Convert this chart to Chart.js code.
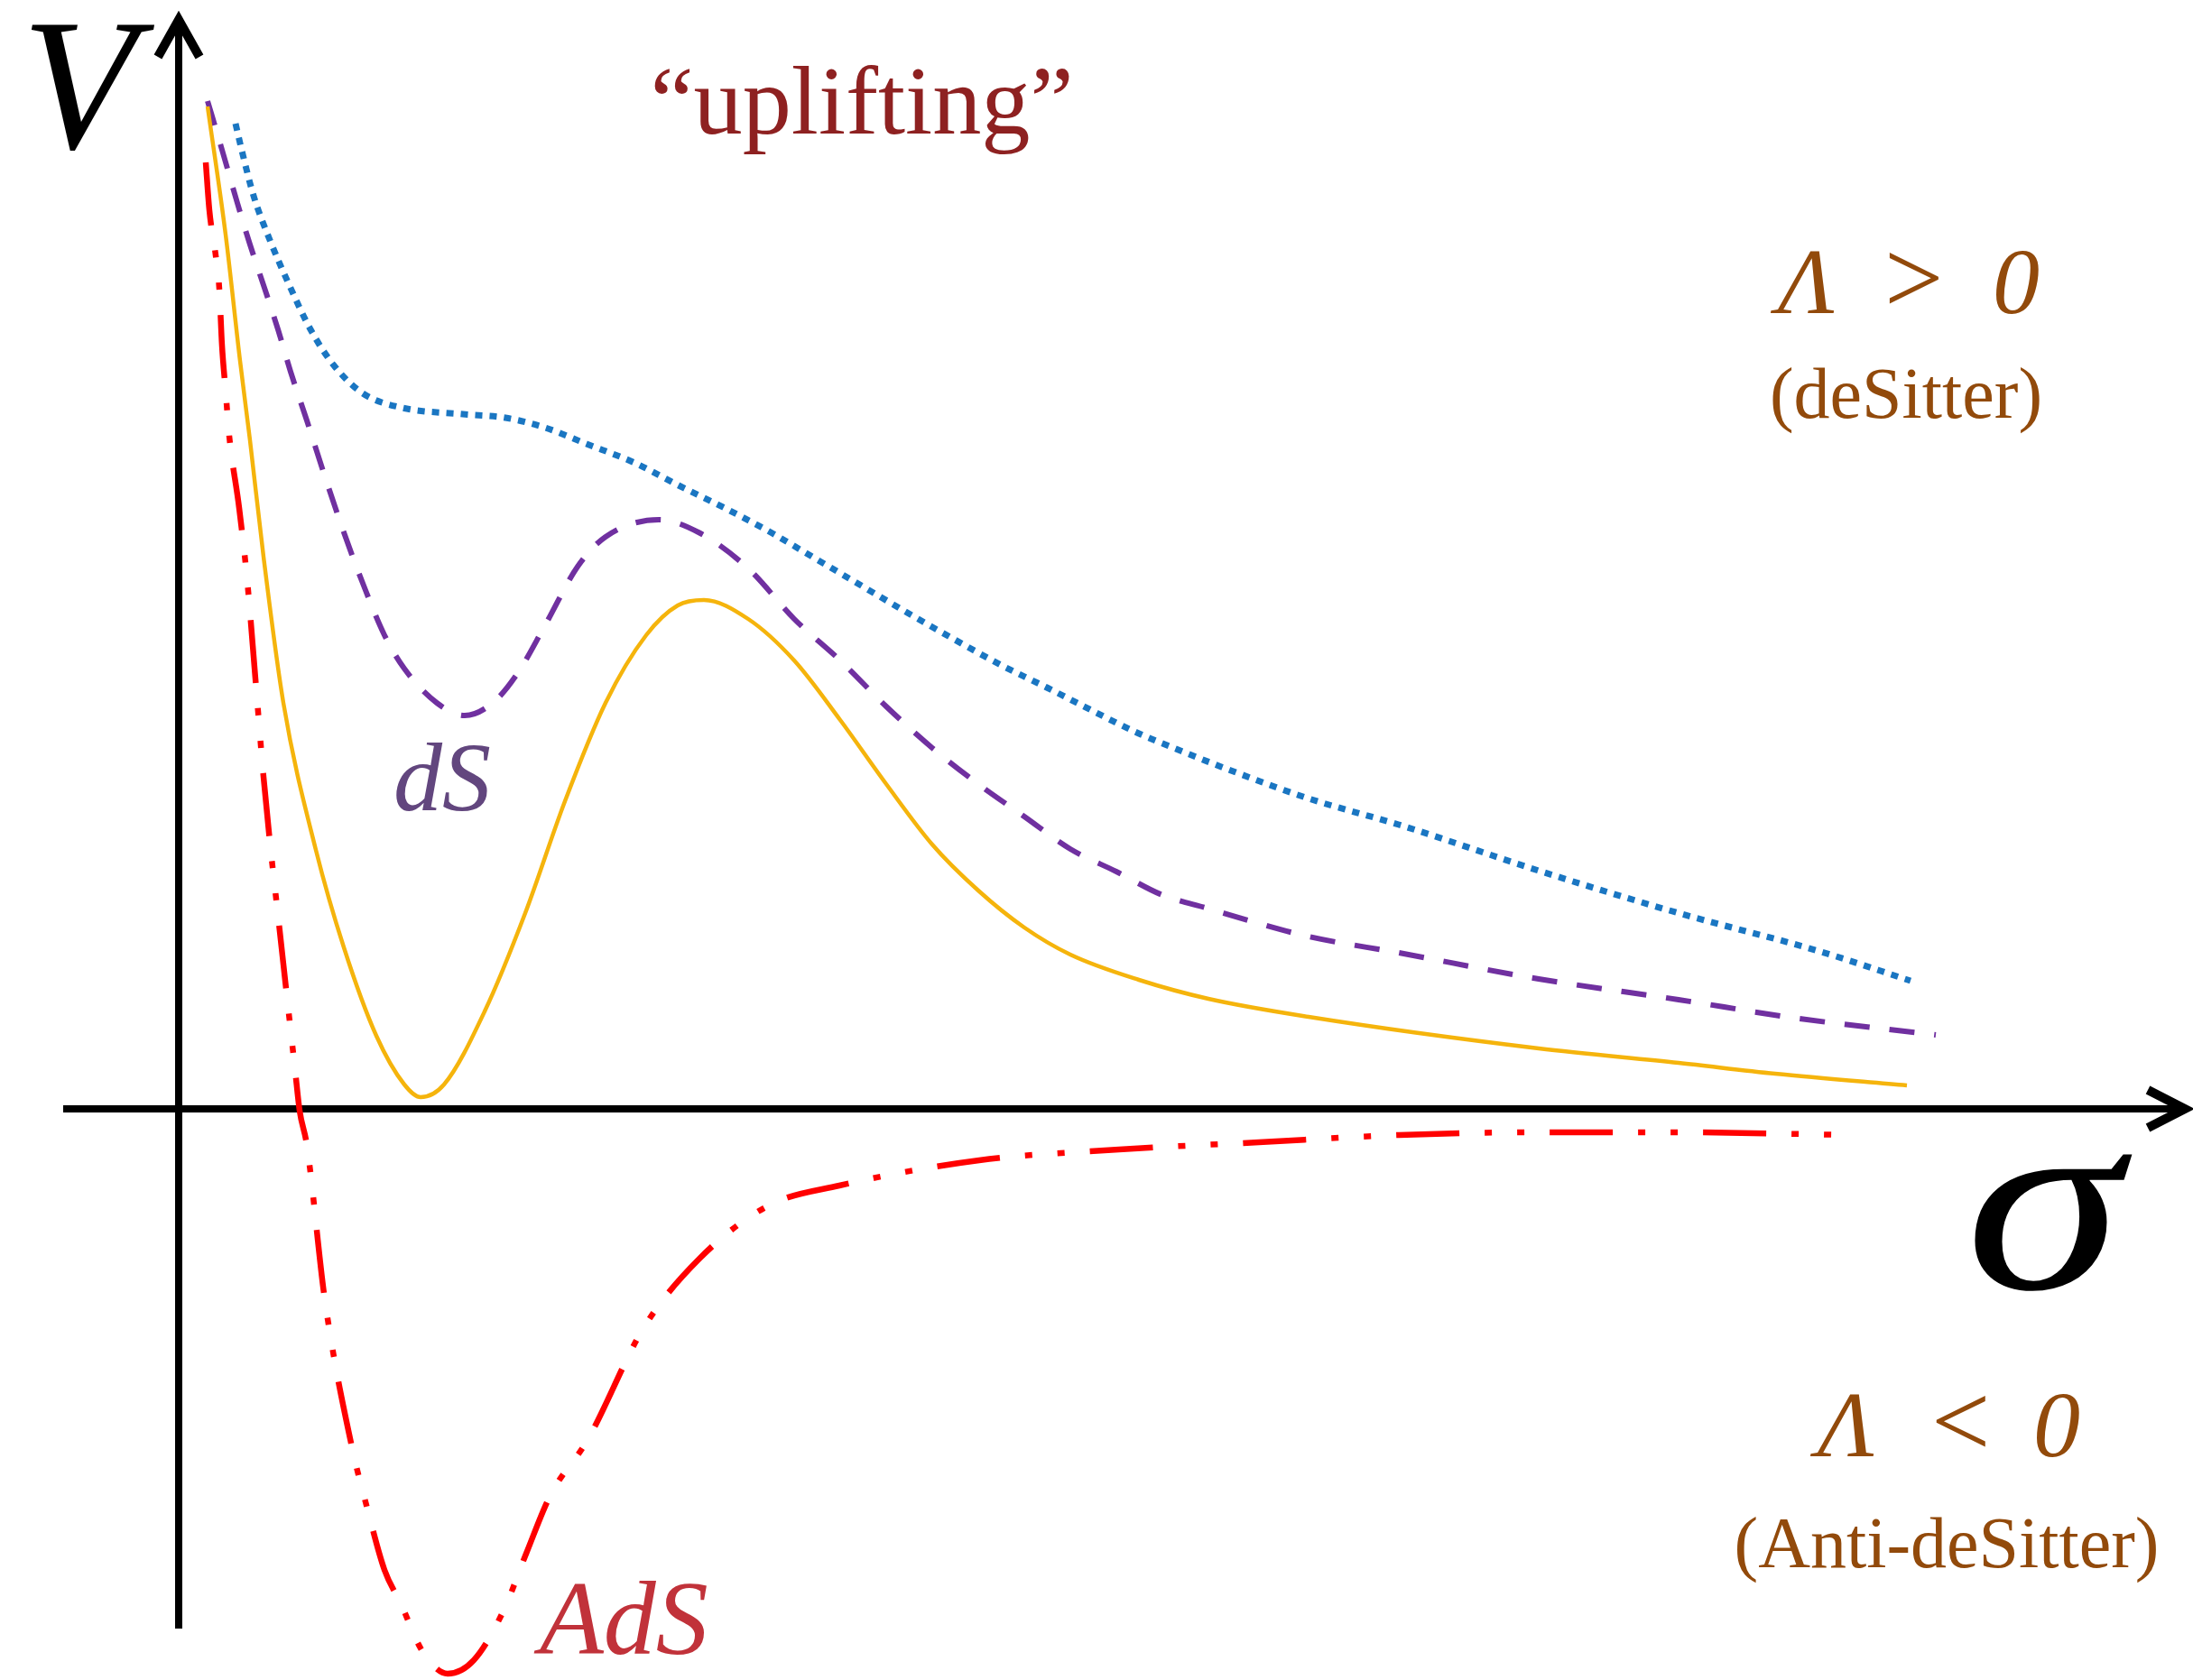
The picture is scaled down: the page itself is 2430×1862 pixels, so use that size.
<!DOCTYPE html>
<html><head><meta charset="utf-8">
<script src="https://cdn.jsdelivr.net/npm/chart.js@4.4.1/dist/chart.umd.min.js"></script>
<style>html,body{margin:0;padding:0;background:#fff;overflow:hidden}#wrap{width:2430px;height:1862px;position:relative}canvas{display:block}</style>
</head><body><div id="wrap"><canvas id="c" width="2430" height="1862"></canvas></div>
<script>
// ---- data (sigma, V) in arbitrary units ----
const sigmaYellow = [0.32,0.52,0.68,0.79,0.94,1.16,1.52,1.83,2.19,2.50,2.68,2.94,3.39,3.84,4.28,4.73,5.18,5.53,5.82,6.31,6.82,7.33,7.84,8.35,8.86,9.37,9.88,10.64,11.41,12.52,15.07,16.62,17.69,19.15];
const vYellow     = [11.11,9.69,8.29,7.41,6.12,4.50,2.87,1.79,0.81,0.27,0.13,0.27,1.08,2.17,3.41,4.50,5.25,5.58,5.64,5.43,4.97,4.31,3.60,2.93,2.42,2.01,1.71,1.43,1.22,1.02,0.67,0.51,0.39,0.26];

const sigmaPurple = [0.32,0.48,0.65,0.79,0.97,1.10,1.24,1.42,1.61,1.83,2.05,2.28,2.50,2.86,3.17,3.48,3.75,4.06,4.42,4.73,5.32,5.76,6.31,6.82,7.33,7.84,8.35,8.86,9.37,9.88,10.39,10.90,11.41,11.92,12.52,13.52,15.07,16.62,17.89,19.47];
const vPurple     = [11.17,10.63,10.04,9.58,9.04,8.64,8.17,7.63,7.04,6.39,5.80,5.25,4.88,4.50,4.36,4.50,4.82,5.36,6.01,6.34,6.53,6.39,5.99,5.43,4.97,4.46,4.00,3.60,3.24,2.88,2.63,2.37,2.22,2.07,1.91,1.73,1.44,1.21,1.01,0.82];

const sigmaBlue = [0.63,0.70,0.83,1.01,1.23,1.46,1.72,2.04,2.48,3.15,3.62,4.06,4.52,5.03,5.54,6.05,6.56,7.07,7.58,8.09,8.60,9.11,9.62,10.13,10.64,11.15,11.66,12.52,13.52,15.07,16.62,18.17,19.19];
const vBlue     = [10.92,10.62,10.12,9.63,9.12,8.64,8.24,7.93,7.77,7.70,7.66,7.55,7.37,7.17,6.91,6.66,6.39,6.09,5.79,5.49,5.20,4.92,4.67,4.41,4.16,3.95,3.75,3.44,3.15,2.64,2.17,1.75,1.42];

const sigmaRed = [0.30,0.34,0.41,0.45,0.48,0.52,0.56,0.67,0.76,0.85,0.94,1.02,1.11,1.20,1.29,1.34,1.42,1.62,1.92,2.09,2.28,2.46,2.70,2.98,3.27,3.60,3.85,4.12,4.53,5.15,5.77,6.54,7.32,8.87,10.42,11.97,13.52,15.07,16.62,18.55];
const vRed     = [10.49,9.96,9.46,9.09,8.46,7.96,7.46,6.66,5.85,4.77,3.68,2.87,2.06,1.24,0.43,-0.02,-0.40,-2.12,-3.75,-4.43,-5.11,-5.48,-6.01,-6.26,-6.11,-5.56,-4.93,-4.28,-3.67,-2.43,-1.66,-1.07,-0.85,-0.57,-0.45,-0.37,-0.29,-0.26,-0.26,-0.29];

const axisLabelV = 'V';
const axisLabelSigma = 'σ';
const titleText = '“uplifting”';
const dsLabel = 'dS';
const adsLabel = 'AdS';
const posLambda = ['Λ', '>', '0'];
const negLambda = ['Λ', '<', '0'];
const posNote = '(deSitter)';
const negNote = '(Anti-deSitter)';

const pts = (xs, ys) => xs.map((x, i) => ({x, y: ys[i]}));
const SERIF = '"Liberation Serif", "Times New Roman", serif';

const axesPlugin = {
  id: 'axesArrows',
  beforeDatasetsDraw(chart) {
    const ctx = chart.ctx, xs = chart.scales.x, ys = chart.scales.y;
    const x0 = xs.getPixelForValue(0), y0 = ys.getPixelForValue(0);
    const yTop = ys.getPixelForValue(12.1), yBot = ys.getPixelForValue(-5.76);
    const xLeft = xs.getPixelForValue(-1.28), xRight = xs.getPixelForValue(22.26);
    ctx.save();
    ctx.strokeStyle = '#000'; ctx.lineWidth = 8; ctx.lineCap = 'butt';
    ctx.beginPath(); ctx.moveTo(x0, yBot); ctx.lineTo(x0, yTop + 4); ctx.stroke();
    ctx.beginPath(); ctx.moveTo(xLeft, y0); ctx.lineTo(xRight - 4, y0); ctx.stroke();
    ctx.lineWidth = 10; ctx.lineJoin = 'miter'; ctx.miterLimit = 10;
    ctx.beginPath(); ctx.moveTo(x0 - 23, yTop + 44); ctx.lineTo(x0, yTop + 3); ctx.lineTo(x0 + 23, yTop + 44); ctx.stroke();
    ctx.beginPath(); ctx.moveTo(xRight - 44, y0 - 21); ctx.lineTo(xRight - 3, y0); ctx.lineTo(xRight - 44, y0 + 21); ctx.stroke();
    ctx.restore();
  },
  afterDraw(chart) {
    const ctx = chart.ctx;
    ctx.save();
    ctx.textBaseline = 'alphabetic';
    const txt = (s, x, y, font, color, align) => { ctx.font = font; ctx.fillStyle = color; ctx.textAlign = align || 'left'; ctx.fillText(s, x, y); };
    txt(axisLabelV, 24, 164, 'italic 208px ' + SERIF, '#000');
    // sigma, slightly widened
    ctx.save();
    ctx.translate(2178, 1428); ctx.scale(1.22, 1);
    txt(axisLabelSigma, 0, 0, 'italic 288px ' + SERIF, '#000');
    ctx.restore();
    ctx.font = '100px ' + SERIF;
    const w = ctx.measureText(titleText).width;
    const fs = 100 * 469 / w;
    txt(titleText, 955, 148, fs.toFixed(1) + 'px ' + SERIF, '#8e2121', 'center');
    const brown = '#924a0b';
    txt(posLambda[0], 1970, 347, 'italic 104px ' + SERIF, brown);
    txt(posLambda[1], 2088, 347, '116px ' + SERIF, brown);
    txt(posLambda[2], 2208, 347, 'italic 104px ' + SERIF, brown);
    txt(posNote, 2112, 463, '80px ' + SERIF, brown, 'center');
    txt(negLambda[0], 2014, 1614, 'italic 104px ' + SERIF, brown);
    txt(negLambda[1], 2140, 1614, '116px ' + SERIF, brown);
    txt(negLambda[2], 2253, 1614, 'italic 104px ' + SERIF, brown);
    txt(negNote, 2157, 1737, '80px ' + SERIF, brown, 'center');
    txt(dsLabel, 436, 898, 'italic 108px ' + SERIF, '#62467e');
    txt(adsLabel, 598, 1833, 'italic 116px ' + SERIF, '#c1323a');
    ctx.restore();
  }
};

const common = { pointRadius: 0, pointHoverRadius: 0, fill: false, cubicInterpolationMode: 'monotone', borderCapStyle: 'butt', borderJoinStyle: 'round' };

new Chart(document.getElementById('c'), {
  type: 'line',
  data: {
    datasets: [
      Object.assign({ label: 'AdS', data: pts(sigmaRed, vRed), borderColor: '#ff0000', borderWidth: 6.5, borderDash: [70, 28, 8, 28, 8, 28] }, common),
      Object.assign({ label: 'uplifted', data: pts(sigmaYellow, vYellow), borderColor: '#f5b40c', borderWidth: 4.5 }, common),
      Object.assign({ label: 'dS', data: pts(sigmaPurple, vPurple), borderColor: '#7030a0', borderWidth: 6, borderDash: [28, 22] }, common),
      Object.assign({ label: 'more uplifted', data: pts(sigmaBlue, vBlue), borderColor: '#1a76c2', borderWidth: 7, borderDash: [8, 8] }, common)
    ]
  },
  options: {
    responsive: false, animation: false, devicePixelRatio: 1,
    layout: { padding: 0 },
    plugins: { legend: { display: false }, tooltip: { enabled: false } },
    scales: {
      x: { type: 'linear', min: -1.98, max: 22.32, display: false },
      y: { type: 'linear', min: -6.33, max: 12.29, display: false }
    }
  },
  plugins: [axesPlugin]
});
</script>
</body></html>
